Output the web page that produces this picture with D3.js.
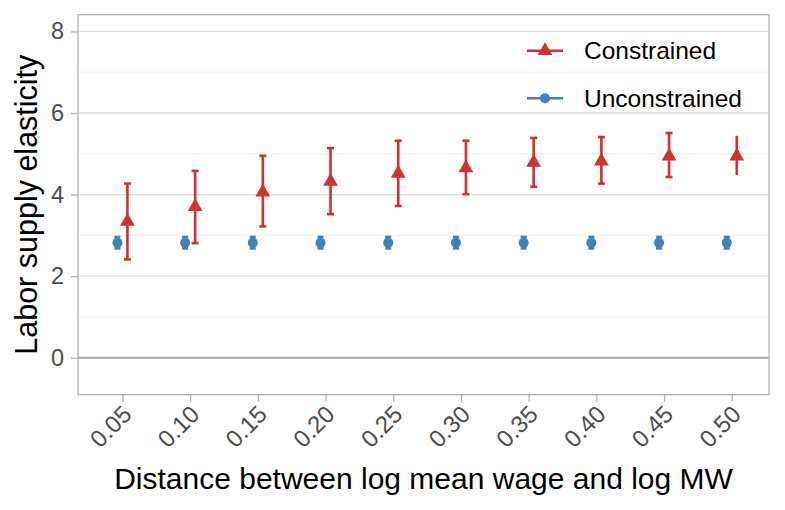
<!DOCTYPE html>
<html>
<head>
<meta charset="utf-8">
<script src="https://cdn.jsdelivr.net/npm/d3@7"></script>
<style>
  body { margin: 0; background: #fff; }
  svg text { font-family: "Liberation Sans", Arial, sans-serif; }
</style>
</head>
<body>
<script>
// Values
const distances = [0.05, 0.10, 0.15, 0.20, 0.25, 0.30, 0.35, 0.40, 0.45, 0.50];
const tickLabels = ["0.05", "0.10", "0.15", "0.20", "0.25", "0.30", "0.35", "0.40", "0.45", "0.50"];

const conEst = [3.34, 3.70, 4.06, 4.32, 4.52, 4.65, 4.79, 4.82, 4.94, 4.94];
const conLo  = [2.41, 2.81, 3.22, 3.52, 3.72, 4.01, 4.19, 4.27, 4.43, 4.48];
const conHi  = [4.27, 4.58, 4.95, 5.14, 5.32, 5.32, 5.39, 5.41, 5.51, 5.44];

const uncEst = [2.82, 2.82, 2.82, 2.82, 2.82, 2.82, 2.82, 2.82, 2.82, 2.82];
const uncLo  = [2.68, 2.68, 2.68, 2.68, 2.68, 2.68, 2.68, 2.68, 2.68, 2.68];
const uncHi  = [2.96, 2.96, 2.96, 2.96, 2.96, 2.96, 2.96, 2.96, 2.96, 2.96];

const yMajor = [0, 2, 4, 6, 8];
const yMinor = [1, 3, 5, 7];

const seriesNames = ["Constrained", "Unconstrained"];
const red = "#d1312f";
const blue = "#4180bb";

const width = 785, height = 510;
const panel = {left: 78, right: 769, top: 14.7, bottom: 394.7};

const svg = d3.select("body").append("svg")
    .attr("width", width)
    .attr("height", height);

const x = d3.scaleLinear()
    .domain([0.0172, 0.5275])
    .range([panel.left, panel.right]);

const y = d3.scaleLinear()
    .domain([-0.906, 8.41])
    .range([panel.bottom, panel.top]);

const dodge = 5;

// grid
svg.append("g").selectAll("line.minor")
    .data(yMinor).join("line")
    .attr("x1", panel.left).attr("x2", panel.right)
    .attr("y1", d => y(d)).attr("y2", d => y(d))
    .attr("stroke", "#ededed").attr("stroke-width", 0.7);

svg.append("g").selectAll("line.major")
    .data(yMajor).join("line")
    .attr("x1", panel.left).attr("x2", panel.right)
    .attr("y1", d => y(d)).attr("y2", d => y(d))
    .attr("stroke", "#dedede").attr("stroke-width", 1.3);

// zero reference line
svg.append("line")
    .attr("x1", panel.left).attr("x2", panel.right)
    .attr("y1", y(0)).attr("y2", y(0))
    .attr("stroke", "#a8a8a8").attr("stroke-width", 2.2);

// axes
const xAxis = svg.append("g")
    .attr("transform", `translate(0,${panel.bottom})`)
    .call(d3.axisBottom(x).tickValues(distances).tickSize(7).tickFormat((d, i) => tickLabels[i]));

xAxis.select(".domain").remove();
xAxis.selectAll(".tick line").attr("stroke", "#b3b3b3").attr("stroke-width", 1.3);
xAxis.selectAll(".tick text")
    .attr("fill", "#4d4d4d")
    .attr("font-size", 24)
    .attr("text-anchor", "end")
    .attr("y", 0).attr("dy", "0.72em")
    .attr("transform", "translate(-2,9) rotate(-45)");

const yAxis = svg.append("g")
    .attr("transform", `translate(${panel.left},0)`)
    .call(d3.axisLeft(y).tickValues(yMajor).tickSize(7).tickPadding(7));

yAxis.select(".domain").remove();
yAxis.selectAll(".tick line").attr("stroke", "#b3b3b3").attr("stroke-width", 1.3);
yAxis.selectAll(".tick text")
    .attr("fill", "#4d4d4d")
    .attr("font-size", 23.5);

// panel border
svg.append("rect")
    .attr("x", panel.left).attr("y", panel.top)
    .attr("width", panel.right - panel.left)
    .attr("height", panel.bottom - panel.top)
    .attr("fill", "none")
    .attr("stroke", "#b3b3b3").attr("stroke-width", 1.3);

// error bars
const drawBars = (est, lo, hi, offset, color, capW, lastCap) => {
    const g = svg.append("g");
    const data = distances.map((d, i) => ({d, i, lo: lo[i], hi: hi[i]}));
    g.selectAll("line.bar").data(data).join("line")
        .attr("x1", p => x(p.d) + offset).attr("x2", p => x(p.d) + offset)
        .attr("y1", p => y(p.lo)).attr("y2", p => y(p.hi))
        .attr("stroke", color).attr("stroke-width", 2.6);
    const capped = data.filter(p => lastCap || p.i < data.length - 1);
    ["lo", "hi"].forEach(k => {
        g.selectAll("line.cap" + k).data(capped).join("line")
            .attr("x1", p => x(p.d) + offset - capW).attr("x2", p => x(p.d) + offset + capW)
            .attr("y1", p => y(p[k])).attr("y2", p => y(p[k]))
            .attr("stroke", color).attr("stroke-width", 2.6);
    });
};

drawBars(uncEst, uncLo, uncHi, -dodge, blue, 3, true);
drawBars(conEst, conLo, conHi, dodge, red, 3.5, false);

// points
const tri = d3.symbol().type(d3.symbolTriangle).size(95);

svg.append("g").selectAll("circle")
    .data(distances).join("circle")
    .attr("cx", d => x(d) - dodge)
    .attr("cy", (d, i) => y(uncEst[i]))
    .attr("r", 5)
    .attr("fill", blue);

svg.append("g").selectAll("path")
    .data(distances).join("path")
    .attr("d", tri)
    .attr("transform", (d, i) => `translate(${x(d) + dodge},${y(conEst[i])})`)
    .attr("fill", red);

// axis titles
svg.append("text")
    .attr("x", (panel.left + panel.right) / 2)
    .attr("y", 489)
    .attr("text-anchor", "middle")
    .attr("font-size", 30)
    .attr("fill", "#000")
    .text("Distance between log mean wage and log MW");

svg.append("text")
    .attr("transform", `translate(37,${(panel.top + panel.bottom) / 2}) rotate(-90)`)
    .attr("text-anchor", "middle")
    .attr("font-size", 30.5)
    .attr("fill", "#000")
    .text("Labor supply elasticity");

// legend
const legend = svg.append("g").attr("transform", "translate(527,50.7)");
const keys = legend.selectAll("g").data(seriesNames).join("g")
    .attr("transform", (d, i) => `translate(0,${i * 47.6})`);

keys.append("line")
    .attr("x1", 0).attr("x2", 36)
    .attr("stroke", (d, i) => i === 0 ? red : blue)
    .attr("stroke-width", 2.6);

keys.filter((d, i) => i === 0).append("path")
    .attr("d", tri)
    .attr("transform", "translate(18,0)")
    .attr("fill", red);

keys.filter((d, i) => i === 1).append("circle")
    .attr("cx", 18).attr("r", 5)
    .attr("fill", blue);

keys.append("text")
    .attr("x", 57)
    .attr("dy", "0.35em")
    .attr("font-size", 24.5)
    .attr("fill", "#000")
    .text(d => d);
</script>
</body>
</html>
